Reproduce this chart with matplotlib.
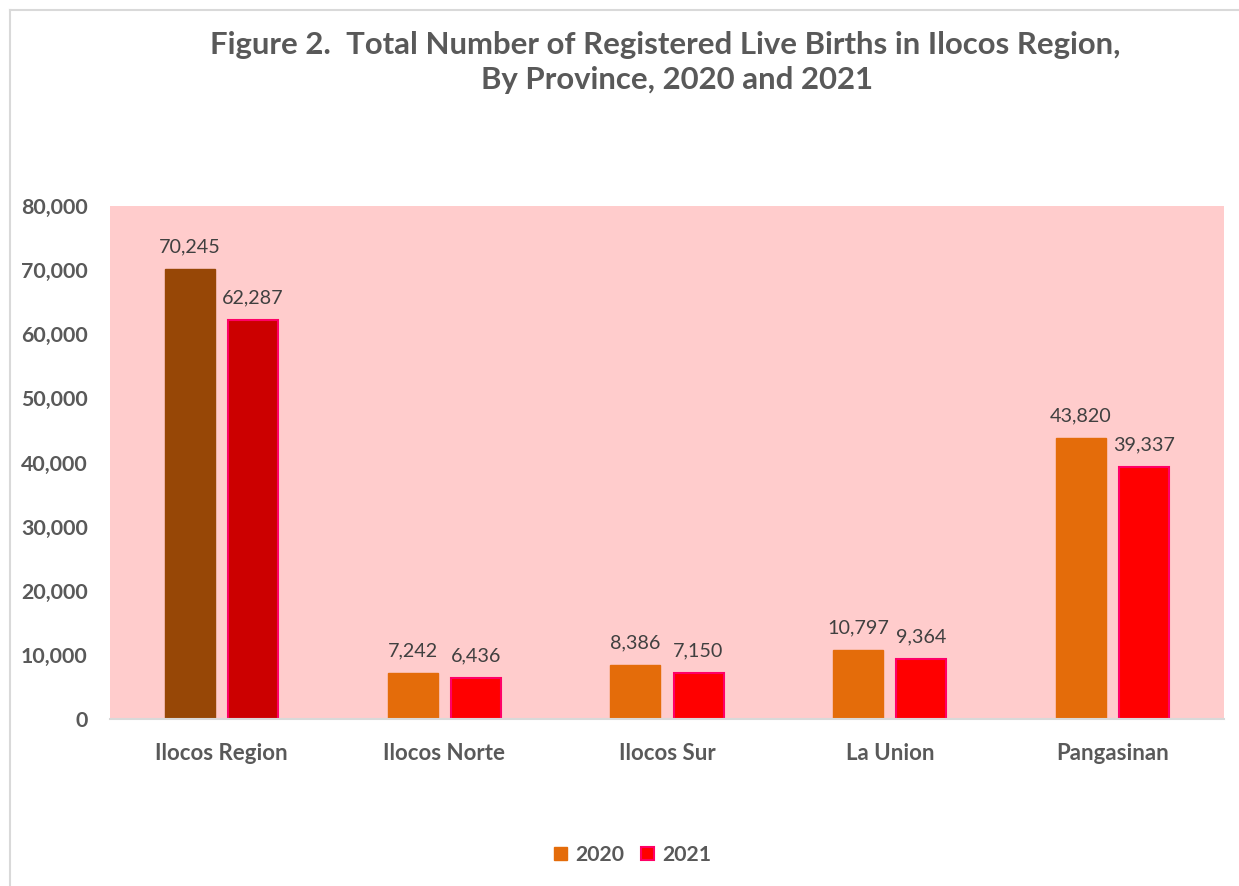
import matplotlib
matplotlib.use("Agg")
import matplotlib.pyplot as plt
from matplotlib.lines import Line2D
from matplotlib.patches import Patch
import numpy as np

categories = ["Ilocos Region", "Ilocos Norte", "Ilocos Sur", "La Union", "Pangasinan"]
births_2020 = [70245, 7242, 8386, 10797, 43820]
births_2021 = [62287, 6436, 7150, 9364, 39337]
years = ["2020", "2021"]
yticks = [0, 10000, 20000, 30000, 40000, 50000, 60000, 70000, 80000]

plt.rcParams['font.family'] = ['Lato', 'DejaVu Sans']

fig = plt.figure(figsize=(12.39, 8.86), dpi=100)
ax = fig.add_axes([110/1239, 1-719/886, (1224-110)/1239, (719-206)/886])
ax.set_facecolor("#FFCCCC")

x = np.arange(len(categories))
w = 0.2244
off = 0.1414
c2020 = ["#974706"] + ["#E46C0A"] * 4
c2021 = ["#CC0000"] + ["#FF0000"] * 4
ax.bar(x - off, births_2020, w, color=c2020, edgecolor=c2020, linewidth=1)
ax.bar(x + off, births_2021, w, color=c2021, edgecolor="#FF0066", linewidth=1.5)

for xi, v in zip(x, births_2020):
    ax.text(xi - off, v + 2100, f"{v:,}", ha="center", va="bottom", fontsize=14.2, color="#404040")
for xi, v in zip(x, births_2021):
    ax.text(xi + off, v + 2100, f"{v:,}", ha="center", va="bottom", fontsize=14.2, color="#404040")

ax.set_xlim(-0.5, len(categories) - 0.5)
ax.set_ylim(0, 80000)
ax.set_yticks(yticks)
ax.set_yticklabels([f"{t:,}" for t in yticks], fontsize=15.4, fontweight="bold", color="#595959")
ax.set_xticks(x)
ax.set_xticklabels(categories, fontsize=16, fontweight="bold", color="#595959")
ax.tick_params(axis="both", length=0)
ax.tick_params(axis="y", pad=16)
ax.tick_params(axis="x", pad=17)
for s in ["top", "right", "left"]:
    ax.spines[s].set_visible(False)
ax.spines["bottom"].set_color("#D9D9D9")
ax.spines["bottom"].set_linewidth(1.5)

fig.text(665/1239, 1-45/886, "Figure 2.  Total Number of Registered Live Births in Ilocos Region,",
         ha="center", va="center", fontsize=22.4, fontweight="bold", color="#595959")
fig.text(677/1239, 1-80/886, "By Province, 2020 and 2021",
         ha="center", va="center", fontsize=22.4, fontweight="bold", color="#595959")

handles = [Patch(facecolor="#E46C0A", edgecolor="#E46C0A"),
           Patch(facecolor="#FF0000", edgecolor="#FF0066", linewidth=1.5)]
leg = fig.legend(handles, years, loc="center", bbox_to_anchor=(633/1239, 1-855/886), ncol=2,
                 frameon=False, handlelength=0.6, handleheight=0.6, handletextpad=0.4,
                 columnspacing=0.8, prop={"size": 15.3, "weight": "bold"})
for t in leg.get_texts():
    t.set_color("#595959")

fig.add_artist(Line2D([10/1239, 10/1239], [0, 1-10/886], color="#D9D9D9", linewidth=1.5))
fig.add_artist(Line2D([10/1239, 1], [1-10/886, 1-10/886], color="#D9D9D9", linewidth=1.5))

fig.savefig("out.png", dpi=100)
